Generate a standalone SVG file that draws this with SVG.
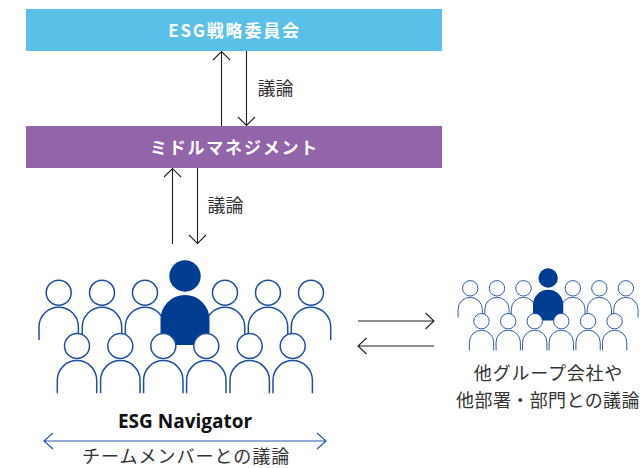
<svg xmlns="http://www.w3.org/2000/svg" width="640" height="468" viewBox="0 0 640 468">
<style>
text{font-family:"Noto Sans CJK JP","Noto Sans",sans-serif;fill:#333}
.t{font-size:17px;font-weight:700;fill:#fff;text-anchor:middle;letter-spacing:1.8px}
.l{font-size:18px;font-weight:400}
.c{fill:none;stroke:#222;stroke-width:1.1}
.b{fill:none;stroke:#2a5aa5;stroke-width:1.2}
.p{fill:#fff;stroke:#1f4f9e;stroke-width:1.5}
.s .p{stroke-width:1.9}
.d{fill:#003c8f}
</style>
<defs>
<g id="person"><path d="M-19.7 47.3V34.3a19.7 19.7 0 0 1 39.4 0V47.3" class="p" style="fill:none"/><circle cx="0" cy="0" r="12.5" class="p"/></g>
<g id="crowd">
<use href="#person" x="58.7" y="292.7"/><use href="#person" x="102" y="292.7"/><use href="#person" x="145" y="292.7"/>
<use href="#person" x="225" y="292.7"/><use href="#person" x="268" y="292.7"/><use href="#person" x="311" y="292.7"/>
<circle cx="185" cy="276" r="15.7" class="d"/>
<path d="M160.500 345V319.500a24.500 24.500 0 0 1 49 0V345Z" class="d"/>
<use href="#person" x="77" y="346"/><use href="#person" x="120.300" y="346"/><use href="#person" x="163.300" y="346"/>
<use href="#person" x="206.300" y="346"/><use href="#person" x="249.700" y="346"/><use href="#person" x="292.700" y="346"/>
</g>
</defs>
<g id="connectors">
<path class="c" d="M221.500 126V51.500M213 60l8.500-8.500 8.500 8.500"/>
<path class="c" d="M246.500 51V125.500M238 117l8.500 8.500 8.500-8.500"/>
<path class="c" d="M172.500 244V168.500M164 177l8.500-8.500 8.500 8.500"/>
<path class="c" d="M197.500 168V243.500M189 235l8.500 8.500 8.500-8.500"/>
<path class="c" d="M358 321H434M425.500 313l8.500 8-8.500 8"/>
<path class="c" d="M434 346H358M366.500 338l-8.500 8 8.500 8"/>
<path class="b" d="M44 441H326M53 433l-9 8 9 8M317 433l9 8-9 8"/>
</g>
<g id="esg-committee"><rect x="26" y="9" width="416" height="42" fill="#5bc0e8"/><text class="t" x="234.500" y="36.500">ESG戦略委員会</text></g>
<g id="middle-management"><rect x="26" y="126" width="416" height="42" fill="#9165a8"/><text class="t" x="234.500" y="153.500">ミドルマネジメント</text></g>
<g id="label-upper"><text class="l" x="257.500" y="95">議論</text></g>
<g id="label-lower"><text class="l" x="207.500" y="212">議論</text></g>
<g id="esg-navigator"><use href="#crowd"/><text x="185" y="428" font-size="19" font-weight="700" text-anchor="middle" style="font-family:'Open Sans','Noto Sans',sans-serif;fill:#111">ESG Navigator</text></g>
<g id="team-label"><text class="l" x="82" y="462.700" letter-spacing="1">チームメンバーとの議論</text></g>
<g id="other-groups" class="s"><use href="#crowd" transform="translate(434 107.700) scale(.617)"/></g>
<g id="other-label"><text class="l" x="548.500" y="380" text-anchor="middle" letter-spacing=".8">他グループ会社や</text><text class="l" x="548" y="407" text-anchor="middle" letter-spacing=".4">他部署・部門との議論</text></g>
</svg>
